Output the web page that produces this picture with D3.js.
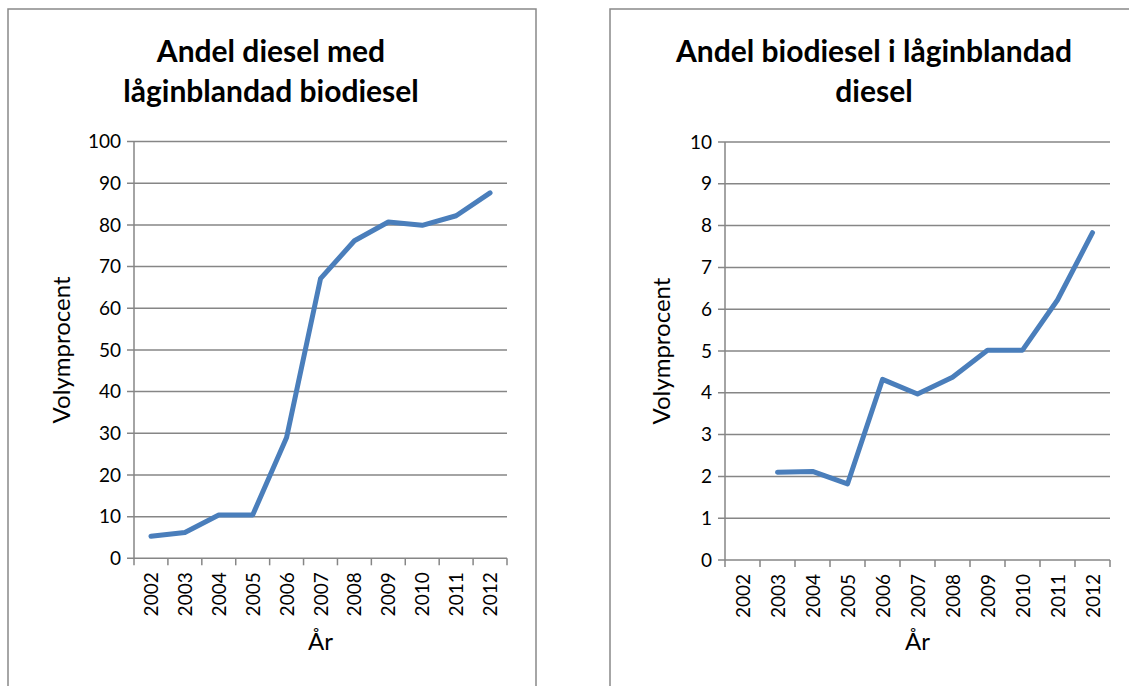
<!DOCTYPE html>
<html>
<head>
<meta charset="utf-8">
<script src="https://cdn.jsdelivr.net/npm/d3@7"></script>
<style>
  body { margin: 0; background: #fff; }
  svg { display: block; font-family: Lato, "Open Sans", sans-serif; }
  .grid line { stroke: #868686; stroke-width: 1.5; }
  .tick-label { font-size: 19px; fill: #000; }
</style>
</head>
<body>
<svg id="chart" width="1129" height="686"></svg>
<script>
// years on the x axis
var years = ["2002", "2003", "2004", "2005", "2006", "2007", "2008", "2009", "2010", "2011", "2012"]

// share of diesel with low-blended biodiesel (%)
var andelDiesel = [5.3, 6.2, 10.4, 10.4, 29.0, 67.1, 76.2, 80.7, 79.9, 82.2, 87.7]

// share of biodiesel in low-blended diesel (%), no value for 2002
var andelBiodiesel = [null, 2.1, 2.12, 1.82, 4.32, 3.97, 4.37, 5.02, 5.02, 6.22, 7.83]

var leftTicks = [0, 10, 20, 30, 40, 50, 60, 70, 80, 90, 100]
var rightTicks = [0, 1, 2, 3, 4, 5, 6, 7, 8, 9, 10]

var svg = d3.select("#chart")

function drawChart(opts){
    var g = svg.append("g")

    // outer frame
    g.append("rect")
     .attr("x", opts.box[0]).attr("y", opts.box[1])
     .attr("width", opts.box[2]).attr("height", opts.box[3])
     .attr("fill", "#fff")
     .attr("stroke", "#898989")
     .attr("stroke-width", 1.5)

    var x = d3.scaleBand().domain(years).range([opts.left, opts.right]).padding(0)
    var y = d3.scaleLinear().domain([0, opts.ticks[opts.ticks.length - 1]]).range([opts.bottom, opts.top])

    // horizontal gridlines + y ticks
    var grid = g.append("g").attr("class", "grid")
    grid.selectAll("line.h").data(opts.ticks).enter().append("line")
        .attr("class", "h")
        .attr("x1", opts.left - 7).attr("x2", opts.right)
        .attr("y1", function(d){ return y(d) }).attr("y2", function(d){ return y(d) })

    // y axis line
    grid.append("line")
        .attr("x1", opts.left).attr("x2", opts.left)
        .attr("y1", opts.top).attr("y2", opts.bottom)

    // x ticks at category edges (excel style)
    var edges = years.map(function(d){ return x(d) }).concat([opts.right])
    grid.selectAll("line.v").data(edges).enter().append("line")
        .attr("class", "v")
        .attr("x1", function(d){ return d }).attr("x2", function(d){ return d })
        .attr("y1", opts.bottom).attr("y2", opts.bottom + 7)

    g.selectAll("text.ylab").data(opts.ticks).enter().append("text")
        .attr("class", "tick-label")
        .attr("x", opts.left - 13)
        .attr("y", function(d){ return y(d) })
        .attr("dy", "0.35em")
        .attr("text-anchor", "end")
        .text(function(d){ return d })

    g.selectAll("text.xlab").data(years).enter().append("text")
        .attr("class", "tick-label")
        .attr("transform", function(d){
            return "translate(" + (x(d) + x.bandwidth() / 2 + 7) + "," + (opts.bottom + 14) + ") rotate(-90)"
        })
        .attr("text-anchor", "end")
        .text(function(d){ return d })

    var line = d3.line()
        .defined(function(d){ return d != null })
        .x(function(d, i){ return x(years[i]) + x.bandwidth() / 2 })
        .y(function(d){ return y(d) })

    g.append("path")
     .datum(opts.values)
     .attr("d", line)
     .attr("fill", "none")
     .attr("stroke", "#4a7ebb")
     .attr("stroke-width", 5)
     .attr("stroke-linejoin", "round")
     .attr("stroke-linecap", "round")

    // title
    var title = g.append("text")
        .attr("text-anchor", "middle")
        .style("font-weight", "bold")
        .style("font-size", "30px")
    opts.title.forEach(function(t, i){
        title.append("tspan")
             .attr("x", opts.titleX)
             .attr("y", 62 + i * 40)
             .text(t)
    })

    g.append("text")
     .attr("transform", "translate(" + opts.yTitleX + "," + ((opts.top + opts.bottom) / 2) + ") rotate(-90)")
     .attr("text-anchor", "middle")
     .style("font-size", "24px")
     .text("Volymprocent")

    g.append("text")
     .attr("x", (opts.left + opts.right) / 2)
     .attr("y", 650)
     .attr("text-anchor", "middle")
     .style("font-size", "24px")
     .text("År")
}

drawChart({
    box: [8, 9, 528, 700],
    left: 134, right: 507, top: 141.6, bottom: 558.3,
    ticks: leftTicks, values: andelDiesel,
    title: ["Andel diesel med", "låginblandad biodiesel"], titleX: 271,
    yTitleX: 70
})

drawChart({
    box: [610, 9, 540, 700],
    left: 725, right: 1110, top: 142, bottom: 560,
    ticks: rightTicks, values: andelBiodiesel,
    title: ["Andel biodiesel i låginblandad", "diesel"], titleX: 874,
    yTitleX: 670
})
</script>
</body>
</html>
